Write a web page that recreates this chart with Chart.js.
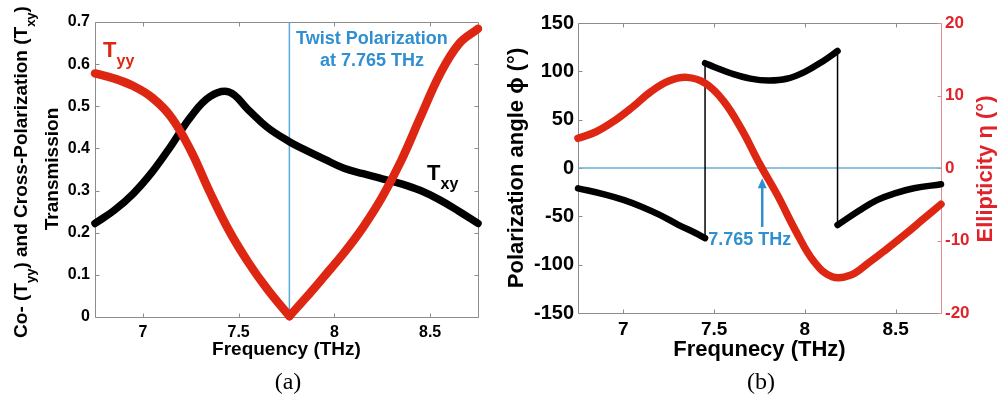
<!DOCTYPE html>
<html>
<head>
<meta charset="utf-8">
<script src="https://cdn.jsdelivr.net/npm/chart.js@4.4.1/dist/chart.umd.min.js"></script>
<style>
  html, body { margin: 0; padding: 0; background: #fff; }
  #wrap { position: relative; width: 999px; height: 404px; overflow: hidden; }
  #cA { position: absolute; left: 0; top: 0; }
  #cB { position: absolute; left: 499px; top: 0; }
</style>
</head>
<body>
<div id="wrap">
  <canvas id="cA" width="499" height="404"></canvas>
  <canvas id="cB" width="500" height="404"></canvas>
</div>
<script>
(function(){
  'use strict';

  // ---- (a) transmission ----
  const freqA = [6.75, 6.85, 6.95, 7.05, 7.15, 7.25, 7.35, 7.45, 7.55, 7.65, 7.765, 7.85, 7.95, 8.05, 8.15, 8.25, 8.35, 8.45, 8.55, 8.65, 8.75];
  const txy   = [0.222, 0.253, 0.293, 0.345, 0.408, 0.475, 0.523, 0.534, 0.492, 0.45, 0.416, 0.396, 0.374, 0.353, 0.34, 0.328, 0.316, 0.3, 0.278, 0.251, 0.222];
  const tyy   = [0.578, 0.566, 0.548, 0.52, 0.473, 0.395, 0.296, 0.205, 0.13, 0.066, 0.002, 0.045, 0.098, 0.152, 0.213, 0.285, 0.372, 0.475, 0.575, 0.648, 0.684];
  const xTicks  = [7, 7.5, 8, 8.5];
  const yTicksA = [0, 0.1, 0.2, 0.3, 0.4, 0.5, 0.6, 0.7];
  const twistFreq = 7.765;

  // ---- (b) polarization angle (3 branches) + ellipticity ----
  const freqPhi1 = [6.75, 6.9, 7.0, 7.1, 7.2, 7.3, 7.4, 7.45];
  const phi1     = [-21, -27.5, -33, -40, -48.5, -58.5, -67.5, -72.6];
  const freqPhi2 = [7.45, 7.5, 7.6, 7.7, 7.8, 7.9, 8.0, 8.1, 8.18];
  const phi2     = [108.5, 104.5, 97.5, 92.5, 90.5, 92.3, 99.5, 110.5, 121];
  const freqPhi3 = [8.18, 8.3, 8.4, 8.5, 8.6, 8.75];
  const phi3     = [-59, -44, -33, -26, -21, -16.8];
  const freqEta  = [6.75, 6.85, 6.95, 7.05, 7.15, 7.25, 7.35, 7.45, 7.55, 7.65, 7.75, 7.85, 7.95, 8.05, 8.15, 8.25, 8.35, 8.45, 8.55, 8.65, 8.75];
  const eta      = [4.1, 5.0, 6.5, 8.4, 10.5, 12.0, 12.5, 11.7, 9.3, 5.4, 0.6, -3.8, -8.7, -12.9, -15.0, -14.8, -13.1, -11.2, -9.2, -7.1, -5.0];
  const yTicksPhi = [-150, -100, -50, 0, 50, 100, 150];
  const yTicksEta = [-20, -10, 0, 10, 20];
  const arrowPhi  = [-61, -10.5];   // arrow bottom / tip at 7.765 THz

  // ---- styles ----
  const SANS  = "'Liberation Sans', Arial, Helvetica, sans-serif";
  const SERIF = "'Liberation Serif', 'Times New Roman', serif";
  const RED   = '#dd2712';
  const RED_T = '#e0232b';
  const BLUE  = '#2f8fd0';
  const LBLUE = '#5aa9dc';
  const GRAY  = '#8c8c8c';
  const PINK  = '#e58a8a';

  Chart.defaults.font.family = SANS;
  Chart.defaults.color = '#000';

  const pts = (xs, ys) => xs.map((x, i) => ({ x, y: ys[i] }));
  const bf  = (px, fam) => `bold ${px}px ${fam || SANS}`;

  // texto con subindices: parts = [{t, f, c, dy}]
  function drawRich(ctx, parts, x, y, rot, align){
    let w = 0;
    parts.forEach(p => { ctx.font = p.f; w += ctx.measureText(p.t).width; });
    ctx.save();
    ctx.translate(x, y);
    ctx.rotate(rot || 0);
    ctx.textAlign = 'left';
    ctx.textBaseline = 'alphabetic';
    let cx = align === 'left' ? 0 : -w / 2;
    parts.forEach(p => {
      ctx.font = p.f;
      ctx.fillStyle = p.c;
      ctx.fillText(p.t, cx, p.dy || 0);
      cx += ctx.measureText(p.t).width;
    });
    ctx.restore();
  }

  function text(ctx, s, x, y, font, color, align){
    ctx.save();
    ctx.font = font;
    ctx.fillStyle = color;
    ctx.textAlign = align || 'center';
    ctx.textBaseline = 'middle';
    ctx.fillText(s, x, y);
    ctx.restore();
  }

  // marco tipo MATLAB con marcas hacia dentro
  function framePlugin(cfg){
    return {
      id: 'frame',
      beforeDatasetsDraw(chart){
        const { ctx, chartArea: a } = chart;
        const L = Math.round(a.left) + 0.5, R = Math.round(a.right) + 0.5;
        const T = Math.round(a.top) + 0.5,  B = Math.round(a.bottom) + 0.5;
        const len = 4;
        ctx.save();
        ctx.lineWidth = 1;
        ctx.strokeStyle = GRAY;
        ctx.beginPath();
        ctx.moveTo(R, T); ctx.lineTo(L, T); ctx.lineTo(L, B); ctx.lineTo(R, B);
        const sx = chart.scales.x;
        sx.ticks.forEach(t => {
          const p = Math.round(sx.getPixelForValue(t.value)) + 0.5;
          ctx.moveTo(p, B); ctx.lineTo(p, B - len);
          ctx.moveTo(p, T); ctx.lineTo(p, T + len);
        });
        const sl = chart.scales[cfg.left];
        sl.ticks.forEach(t => {
          const p = Math.round(sl.getPixelForValue(t.value)) + 0.5;
          ctx.moveTo(L, p); ctx.lineTo(L + len, p);
        });
        ctx.stroke();
        ctx.strokeStyle = cfg.rightColor;
        ctx.beginPath();
        ctx.moveTo(R, T); ctx.lineTo(R, B);
        const sr = chart.scales[cfg.right];
        sr.ticks.forEach(t => {
          const p = Math.round(sr.getPixelForValue(t.value)) + 0.5;
          ctx.moveTo(R, p); ctx.lineTo(R - len, p);
        });
        ctx.stroke();
        ctx.restore();
      }
    };
  }

  const fixedTicks = (arr) => (s) => { s.ticks = arr.map(v => ({ value: v })); };
  const tickOpts = (size, pad, color) => ({
    padding: pad, color: color || '#000', autoSkip: false, maxRotation: 0,
    font: { size, weight: 'bold', family: SANS },
    callback: v => String(v)
  });
  const noGrid = { display: false, drawTicks: false };

  const line = (data, color, width, extra) => Object.assign({
    data, borderColor: color, backgroundColor: color, borderWidth: width,
    pointRadius: 0, tension: 0.4, fill: false,
    borderCapStyle: 'round', borderJoinStyle: 'round', clip: false
  }, extra || {});

  // T_yy se parte en el minimo (pico en V a 7.765 THz)
  const tyyPts = pts(freqA, tyy);
  const iMin = tyy.indexOf(Math.min(...tyy));

  // ---- Chart (a) ----
  new Chart(document.getElementById('cA'), {
    type: 'line',
    data: {
      datasets: [
        line(tyyPts.slice(0, iMin + 1), RED, 8.5),
        line(tyyPts.slice(iMin), RED, 8.5),
        line(pts(freqA, txy), '#000', 7.5),
        line([{ x: twistFreq, y: 0 }, { x: twistFreq, y: 0.7 }], LBLUE, 1.5, { borderCapStyle: 'butt', tension: 0 })
      ]
    },
    options: {
      responsive: false, animation: false, events: [],
      layout: { padding: { top: 22, right: 21, left: 0, bottom: 0 } },
      plugins: { legend: { display: false }, tooltip: { enabled: false } },
      scales: {
        x: {
          type: 'linear', min: 6.75, max: 8.75,
          afterBuildTicks: fixedTicks(xTicks),
          afterFit: s => { s.height = 87; },
          grid: noGrid, border: { display: false },
          ticks: tickOpts(16, 6)
        },
        y: {
          type: 'linear', min: 0, max: 0.7,
          afterBuildTicks: fixedTicks(yTicksA),
          afterFit: s => { s.width = 95; },
          grid: noGrid, border: { display: false },
          ticks: tickOpts(16, 5)
        }
      }
    },
    plugins: [
      framePlugin({ left: 'y', right: 'y', rightColor: GRAY }),
      {
        id: 'notesA',
        afterDraw(chart){
          const { ctx, chartArea: a } = chart;
          const X = v => chart.scales.x.getPixelForValue(v);
          const Y = v => chart.scales.y.getPixelForValue(v);
          text(ctx, 'Frequency (THz)', (a.left + a.right) / 2, 350, bf(19), '#000');
          drawRich(ctx, [
            { t: 'Co- (T', f: bf(19), c: '#000' },
            { t: 'yy', f: bf(13), c: '#000', dy: 8.5 },
            { t: ') and Cross-Polarization (T', f: bf(19), c: '#000' },
            { t: 'xy', f: bf(13), c: '#000', dy: 8.5 },
            { t: ')', f: bf(19), c: '#000' }
          ], 26.5, 172, -Math.PI / 2);
          drawRich(ctx, [{ t: 'Transmission', f: bf(19), c: '#000' }], 57.5, 169, -Math.PI / 2);
          text(ctx, 'Twist Polarization', X(8.196), Y(0.659), bf(18), BLUE);
          text(ctx, 'at 7.765 THz', X(8.196), Y(0.608), bf(18), BLUE);
          drawRich(ctx, [
            { t: 'T', f: bf(22), c: RED },
            { t: 'yy', f: bf(16), c: RED, dy: 9 }
          ], X(6.792), Y(0.616), 0, 'left');
          drawRich(ctx, [
            { t: 'T', f: bf(22), c: '#000' },
            { t: 'xy', f: bf(16), c: '#000', dy: 9 }
          ], X(8.484), Y(0.325), 0, 'left');
          text(ctx, '(a)', 288, 383, `24px ${SERIF}`, '#000');
        }
      }
    ]
  });

  // ---- Chart (b) ----
  const p1 = pts(freqPhi1, phi1), p2 = pts(freqPhi2, phi2), p3 = pts(freqPhi3, phi3);
  new Chart(document.getElementById('cB'), {
    type: 'line',
    data: {
      datasets: [
        line(pts(freqEta, eta), RED, 7.5, { yAxisID: 'yR' }),
        line(p1, '#000', 6.5),
        line(p2, '#000', 6.5),
        line(p3, '#000', 6.5),
        line([p1[p1.length - 1], p2[0]], '#000', 1.5, { borderCapStyle: 'butt', tension: 0 }),
        line([p2[p2.length - 1], p3[0]], '#000', 1.5, { borderCapStyle: 'butt', tension: 0 }),
        line([{ x: 6.75, y: 0 }, { x: 8.75, y: 0 }], '#6aaed4', 1.5, { borderCapStyle: 'butt', tension: 0 })
      ]
    },
    options: {
      responsive: false, animation: false, events: [],
      layout: { padding: { top: 23, right: 0, left: 0, bottom: 0 } },
      plugins: { legend: { display: false }, tooltip: { enabled: false } },
      scales: {
        x: {
          type: 'linear', min: 6.75, max: 8.75,
          afterBuildTicks: fixedTicks(xTicks),
          afterFit: s => { s.height = 91; },
          grid: noGrid, border: { display: false },
          ticks: tickOpts(19, 5)
        },
        y: {
          type: 'linear', position: 'left', min: -150, max: 150,
          afterBuildTicks: fixedTicks(yTicksPhi),
          afterFit: s => { s.width = 79; },
          grid: noGrid, border: { display: false },
          ticks: tickOpts(20, 4)
        },
        yR: {
          type: 'linear', position: 'right', min: -20, max: 20,
          afterBuildTicks: fixedTicks(yTicksEta),
          afterFit: s => { s.width = 58; },
          grid: noGrid, border: { display: false },
          ticks: tickOpts(17, 4, RED_T)
        }
      }
    },
    plugins: [
      framePlugin({ left: 'y', right: 'yR', rightColor: PINK }),
      {
        id: 'notesB',
        afterDraw(chart){
          const { ctx, chartArea: a } = chart;
          const X = v => chart.scales.x.getPixelForValue(v);
          const Y = v => chart.scales.y.getPixelForValue(v);
          text(ctx, 'Frequnecy (THz)', (a.left + a.right) / 2, 350, bf(22), '#000');
          drawRich(ctx, [{ t: 'Polarization angle \u03d5 (\u00b0)', f: bf(22), c: '#000' }], 23.5, 168, -Math.PI / 2);
          drawRich(ctx, [{ t: 'Ellipticity \u03b7 (\u00b0)', f: bf(22), c: RED_T }], 493, 169, -Math.PI / 2);

          // flecha en 7.765 THz
          const ax = X(twistFreq), yb = Y(arrowPhi[0]), yt = Y(arrowPhi[1]);
          ctx.save();
          ctx.strokeStyle = BLUE; ctx.fillStyle = BLUE; ctx.lineWidth = 2.5;
          ctx.beginPath(); ctx.moveTo(ax, yb); ctx.lineTo(ax, yt + 8); ctx.stroke();
          ctx.beginPath(); ctx.moveTo(ax, yt); ctx.lineTo(ax - 4.5, yt + 10); ctx.lineTo(ax + 4.5, yt + 10); ctx.closePath(); ctx.fill();
          ctx.restore();
          text(ctx, '7.765 THz', X(7.468), Y(-74.5), bf(18), BLUE, 'left');
          text(ctx, '(b)', 262, 383, `24px ${SERIF}`, '#000');
        }
      }
    ]
  });
})();
</script>
</body>
</html>
